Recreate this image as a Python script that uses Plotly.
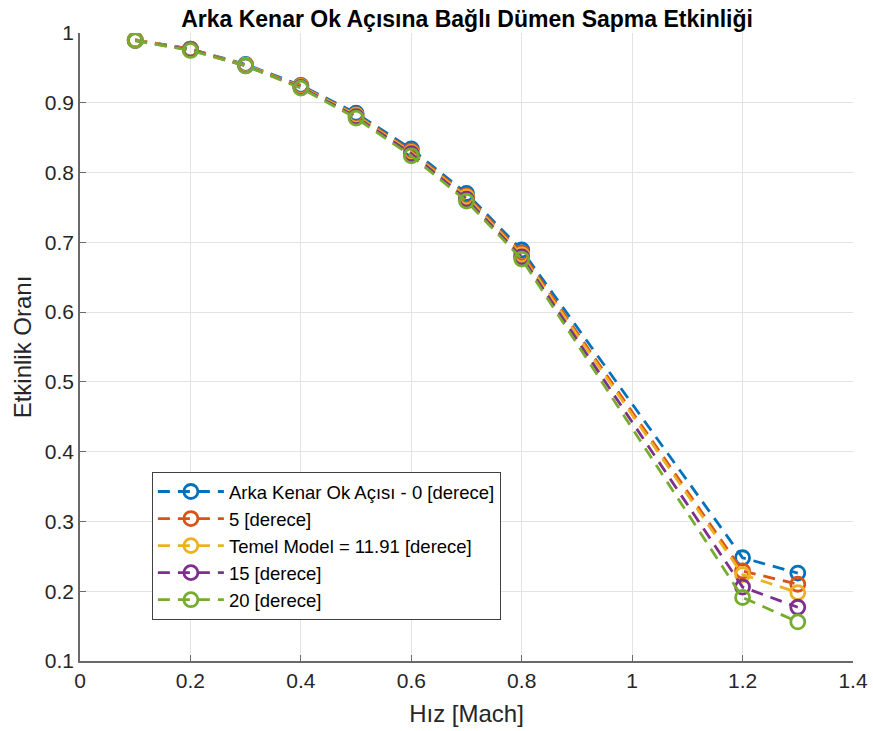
import plotly.graph_objects as go

mach = [0.1, 0.2, 0.3, 0.4, 0.5, 0.6, 0.7, 0.8, 1.2, 1.3]
s0 = [0.990, 0.977, 0.955, 0.925, 0.885, 0.834, 0.770, 0.689, 0.248, 0.226]
s5 = [0.990, 0.977, 0.954, 0.924, 0.883, 0.831, 0.767, 0.685, 0.229, 0.210]
s1191 = [0.990, 0.976, 0.954, 0.923, 0.882, 0.829, 0.765, 0.682, 0.224, 0.198]
s15 = [0.989, 0.976, 0.953, 0.922, 0.880, 0.827, 0.762, 0.679, 0.206, 0.177]
s20 = [0.989, 0.975, 0.953, 0.921, 0.878, 0.824, 0.759, 0.676, 0.191, 0.156]

names = ["Arka Kenar Ok Açısı - 0 [derece]", "5 [derece]",
         "Temel Model = 11.91 [derece]", "15 [derece]", "20 [derece]"]
series = [s0, s5, s1191, s15, s20]
colors = ["#0072BD", "#D95319", "#EDB120", "#7E2F8E", "#77AC30"]

FONT = "Liberation Sans, Arial, Helvetica, sans-serif"

fig = go.Figure()
for name, ys, c in zip(names, series, colors):
    fig.add_trace(go.Scatter(
        x=mach, y=ys, name=name, mode="lines+markers",
        line=dict(color=c, width=2.8, dash="12px,8px"),
        marker=dict(symbol="circle-open", size=14, color=c, line=dict(width=2.8, color=c)),
    ))

fig.update_layout(
    width=873, height=731,
    margin=dict(l=80, r=20, t=33, b=70),
    paper_bgcolor="white", plot_bgcolor="white",
    font=dict(family=FONT, size=21, color="#262626"),
    title=dict(text="<b>Arka Kenar Ok Açısına Bağlı Dümen Sapma Etkinliği</b>",
               x=0.535, xanchor="center", y=0.974, yanchor="middle",
               font=dict(size=23, color="black")),
    xaxis=dict(range=[0, 1.4], tickvals=[0, 0.2, 0.4, 0.6, 0.8, 1, 1.2, 1.4],
               ticktext=["0", "0.2", "0.4", "0.6", "0.8", "1", "1.2", "1.4"],
               showgrid=True, gridcolor="#e3e3e3", gridwidth=1,
               showline=True, linecolor="#6a6a6a", linewidth=1.5,
               ticks="inside", ticklen=6, tickcolor="#6a6a6a",
               zeroline=False, tickfont=dict(size=21), automargin=False,
               title=dict(text="Hız [Mach]", font=dict(size=24), standoff=14)),
    yaxis=dict(range=[0.1, 1], tickvals=[0.1, 0.2, 0.3, 0.4, 0.5, 0.6, 0.7, 0.8, 0.9, 1],
               ticktext=["0.1", "0.2", "0.3", "0.4", "0.5", "0.6", "0.7", "0.8", "0.9", "1"],
               showgrid=True, gridcolor="#e3e3e3", gridwidth=1,
               showline=True, linecolor="#6a6a6a", linewidth=1.5,
               ticks="inside", ticklen=6, tickcolor="#6a6a6a",
               zeroline=False, tickfont=dict(size=21), automargin=False,
               title=dict(text="Etkinlik Oranı", font=dict(size=24), standoff=6)),
    legend=dict(x=0.093, y=0.301, xanchor="left", yanchor="top",
                bgcolor="white", bordercolor="#404040", borderwidth=1,
                font=dict(size=18.5, color="black"), tracegroupgap=0,
                itemwidth=66),
    showlegend=True,
)

fig.write_html("out.html")
